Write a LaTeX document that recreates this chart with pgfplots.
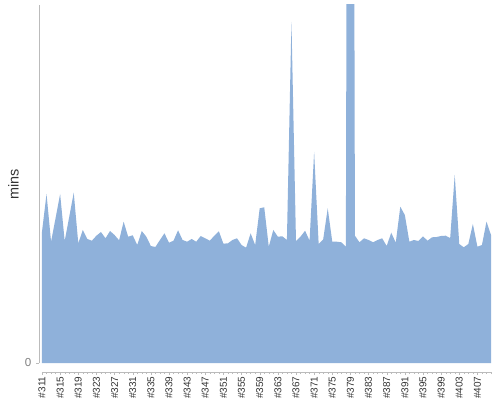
\documentclass[border=0pt]{standalone}
\usepackage{pgfplots}
\pgfplotsset{compat=1.18}
\usepackage{fontspec}
\setmainfont{Liberation Sans}
\definecolor{areablue}{HTML}{8FB1DA}
\definecolor{axgray}{HTML}{BBBBBB}
\definecolor{lblgray}{HTML}{333333}
\begin{document}
\begin{tikzpicture}[x=0.75pt,y=0.75pt]
\useasboundingbox (0,0) rectangle (500,400);
\begin{axis}[
  at={(39*0.75pt,37*0.75pt)}, anchor=south west,
  scale only axis, width=452*0.75pt, height=358*0.75pt,
  xmin=-0.66, xmax=99, ymin=0, ymax=358,
  axis y line=left, axis x line=none,
  y axis line style={draw=axgray, -},
  ytick={0}, yticklabels={0},
  tick align=outside, major tick length=3*0.75pt,
  ytick style={draw=axgray},
  yticklabel style={font=\fontsize{8.7pt}{10pt}\selectfont, text=gray, inner sep=1pt, xshift=-3*0.75pt},
  ylabel={mins},
  every axis y label/.style={at={(axis description cs:0,0.5)}, xshift=-25.5*0.75pt, rotate=90, anchor=center, font=\fontsize{10.8pt}{12pt}\selectfont, text=lblgray},
  clip=true,
]
\addplot[draw=none, fill=areablue] coordinates {
(0,0)
(0,131.3) (1,169) (2,121.3) (3,145) (4,169) (5,122) (6,146) (7,170.3) (8,119.7) (9,133)
(10,124) (11,122.3) (12,127.3) (13,131) (14,124.7) (15,132) (16,128) (17,122.7) (18,141.3) (19,126.3)
(20,127.7) (21,118) (22,132) (23,126.3) (24,117) (25,116) (26,123) (27,129.7) (28,120.3) (29,122.3)
(30,132.7) (31,123) (32,121.3) (33,124) (34,121.3) (35,127) (36,124.7) (37,122.3) (38,127.3) (39,131.7)
(40,119.3) (41,119.7) (42,123) (43,124.7) (44,118) (45,115.3) (46,129.7) (47,118) (48,154.7) (49,155.7)
(50,116.3) (51,133) (52,126.3) (53,126.7) (54,123) (55,341) (56,122) (57,126.3) (58,132.3) (59,122.3)
(60,211) (61,119) (62,123.7) (63,154.7) (64,121.3) (65,121.3) (66,120.7) (67,116.3) (68,2000) (69,127.3)
(70,120.7) (71,124.7) (72,123) (73,120.7) (74,123) (75,124.7) (76,117) (77,130.3) (78,120.3) (79,156.3)
(80,148) (81,121.3) (82,123) (83,122) (84,126.7) (85,122.3) (86,125.7) (87,126) (88,127) (89,127.3)
(90,125) (91,188) (92,119) (93,115.7) (94,119) (95,139) (96,116.3) (97,118) (98,141.3) (99,128)
(99,0)
} -- cycle;
\end{axis}
\begin{axis}[
  at={(42*0.75pt,28*0.75pt)}, anchor=south west,
  scale only axis, width=449*0.75pt, height=4*0.75pt,
  xmin=0, xmax=99, ymin=0, ymax=1,
  axis x line=bottom, axis y line=none,
  x axis line style={draw=axgray, -},
  xtick={0,4,...,96},
  xticklabels={\#311,\#315,\#319,\#323,\#327,\#331,\#335,\#339,\#343,\#347,\#351,\#355,\#359,\#363,\#367,\#371,\#375,\#379,\#383,\#387,\#391,\#395,\#399,\#403,\#407},
  minor xtick={0,...,99},
  tick align=outside, major tick length=3*0.75pt, minor tick length=2*0.75pt,
  xtick style={draw=axgray},
  minor tick style={draw=axgray},
  xticklabel style={rotate=90, anchor=east, font=\fontsize{7.5pt}{9pt}\selectfont, text=lblgray, inner sep=1pt},
]
\end{axis}
\end{tikzpicture}
\end{document}
